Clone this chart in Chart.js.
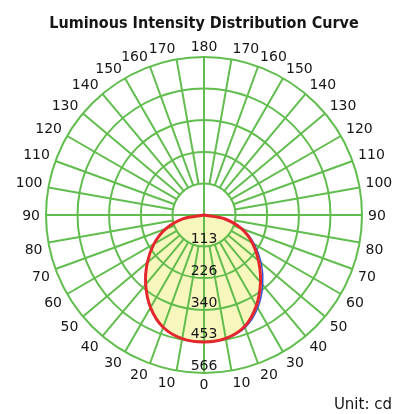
<!DOCTYPE html>
<html>
<head>
<meta charset="utf-8">
<title>Luminous Intensity Distribution Curve</title>
<script src="https://cdn.jsdelivr.net/npm/chart.js@4/dist/chart.umd.min.js"></script>
<style>
  html, body { margin: 0; padding: 0; background: #ffffff; }
  canvas { display: block; }
</style>
</head>
<body>
<canvas id="ldc" width="394" height="414"></canvas>
<script>
// Gamma angle of each 10° spoke, clockwise from the nadir (0) up to the zenith (180) and back.
const angleLabels = [
  '0', '10', '20', '30', '40', '50', '60', '70', '80', '90',
  '100', '110', '120', '130', '140', '150', '160', '170', '180',
  '170', '160', '150', '140', '130', '120', '110', '100', '90',
  '80', '70', '60', '50', '40', '30', '20', '10'
];

// Intensity rings (cd); the last one is the outer edge of the dial.
const ringValues = [113, 226, 340, 453, 566];
const ringLabels = ['113', '226', '340', '453', '566'];

// C0–C180 plane, intensity in cd per spoke (same order as angleLabels).
const planeC0 = [
  455, 450, 428, 383, 325, 265, 207, 147, 75, 0,
  0, 0, 0, 0, 0, 0, 0, 0, 0,
  0, 0, 0, 0, 0, 0, 0, 0, 0,
  72, 143, 200, 255, 315, 375, 425, 449
];

// C90–C270 plane, intensity in cd per spoke.
const planeC90 = [
  455, 450, 428, 384, 326, 266, 207, 147, 74, 0,
  0, 0, 0, 0, 0, 0, 0, 0, 0,
  0, 0, 0, 0, 0, 0, 0, 0, 0,
  75, 148, 208, 268, 327, 385, 430, 450
];

const titleText = 'Luminous Intensity Distribution Curve';
const unitText = 'Unit: cd';

const GRID = '#62bd4f';
const TEXT = '#161616';
const FONT = '"DejaVu Sans", Verdana, sans-serif';

// Dial grid: rings plus spokes that start at the first ring (the four axes run through the centre).
const dialGrid = {
  id: 'dialGrid',
  afterDatasetDraw(chart, args) {
    if (args.index !== 0) return;
    const r = chart.scales.r;
    const ctx = chart.ctx;
    const inner = r.getDistanceFromCenterForValue(ringValues[0]);
    const outer = r.getDistanceFromCenterForValue(r.max);
    ctx.save();
    ctx.strokeStyle = GRID;
    ctx.lineWidth = 2;
    ringValues.forEach(v => {
      ctx.beginPath();
      ctx.arc(r.xCenter, r.yCenter, r.getDistanceFromCenterForValue(v), 0, Math.PI * 2);
      ctx.stroke();
    });
    for (let i = 0; i < angleLabels.length; i++) {
      const from = r.getPointPosition(i, i % 9 === 0 ? 0 : inner);
      const to = r.getPointPosition(i, outer);
      ctx.beginPath();
      ctx.moveTo(from.x, from.y);
      ctx.lineTo(to.x, to.y);
      ctx.stroke();
    }
    ctx.restore();
  }
};

// Texts: title, unit, gamma labels round the dial and intensity values on the nadir axis.
const dialText = {
  id: 'dialText',
  afterDraw(chart) {
    const r = chart.scales.r;
    const ctx = chart.ctx;
    const outer = r.getDistanceFromCenterForValue(r.max);
    const size = 14;
    const capH = size * 0.73;
    ctx.save();
    ctx.fillStyle = TEXT;
    ctx.textBaseline = 'alphabetic';

    ctx.font = 'bold 16px "DejaVu Sans Condensed", "DejaVu Sans", sans-serif';
    ctx.textAlign = 'center';
    ctx.fillText(titleText, 204, 28);

    ctx.font = '15px ' + FONT;
    ctx.textAlign = 'right';
    ctx.fillText(unitText, 392, 409);

    ctx.font = size + 'px ' + FONT;
    const n = angleLabels.length;
    for (let i = 0; i < n; i++) {
      const p = r.getPointPosition(i, outer + 6);
      const half = n / 2;
      ctx.textAlign = (i === 0 || i === half) ? 'center' : (i < half ? 'right' : 'left');
      let y;
      if (i === n / 4 || i === 3 * n / 4) y = p.y + capH / 2;
      else if (i > n / 4 && i < 3 * n / 4) y = p.y;
      else y = p.y + capH;
      ctx.fillText(angleLabels[i], p.x, y);
    }

    ctx.textAlign = 'center';
    ringValues.forEach((v, k) => {
      const p = r.getPointPosition(0, r.getDistanceFromCenterForValue(v) - 8.5);
      ctx.fillText(ringLabels[k], p.x, p.y + capH / 2);
    });
    ctx.restore();
  }
};

new Chart(document.getElementById('ldc'), {
  type: 'radar',
  data: {
    labels: angleLabels,
    datasets: [
      {
        label: 'area',
        data: planeC0,
        order: 3,
        fill: 'origin',
        backgroundColor: '#f7f7bd',
        borderColor: 'rgba(0,0,0,0)',
        borderWidth: 0,
        pointRadius: 0,
        tension: 0.3
      },
      {
        label: 'C90-C270',
        data: planeC90,
        order: 2,
        fill: false,
        borderColor: '#3a55c8',
        borderWidth: 1.5,
        pointRadius: 0,
        tension: 0.3
      },
      {
        label: 'C0-C180',
        data: planeC0,
        order: 1,
        fill: false,
        borderColor: '#e5262d',
        borderWidth: 3,
        pointRadius: 0,
        tension: 0.3
      }
    ]
  },
  options: {
    responsive: false,
    animation: false,
    devicePixelRatio: 1,
    layout: { padding: { left: 46, right: 32, top: 57, bottom: 41 } },
    plugins: {
      legend: { display: false },
      title: { display: false },
      tooltip: { enabled: false }
    },
    scales: {
      r: {
        min: 0,
        max: 566,
        startAngle: 180,
        ticks: { display: false, stepSize: 113.2 },
        grid: { display: false },
        angleLines: { display: false },
        pointLabels: { display: false }
      }
    }
  },
  plugins: [dialGrid, dialText]
});
</script>
</body>
</html>
